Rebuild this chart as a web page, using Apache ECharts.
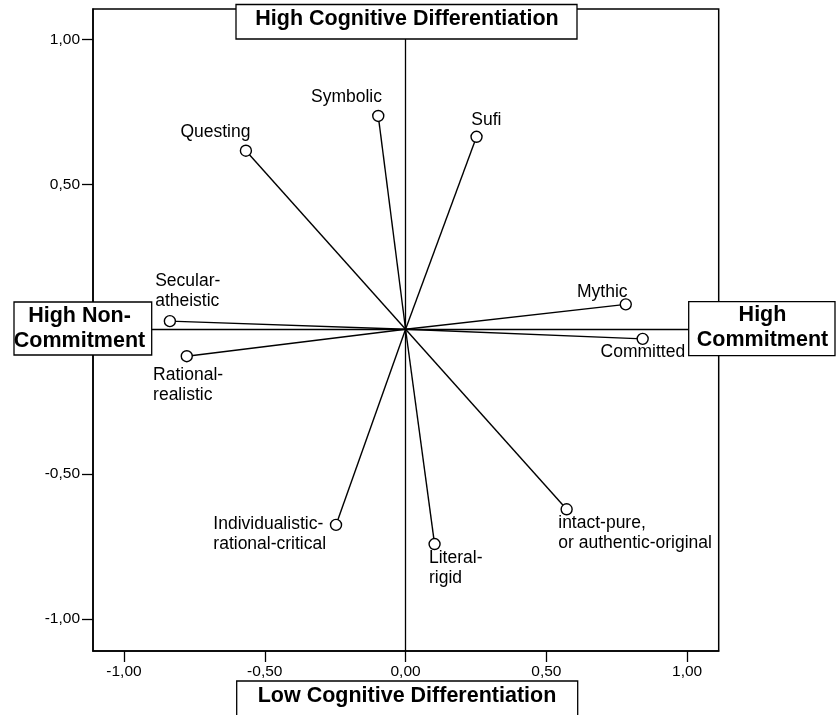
<!DOCTYPE html>
<html>
<head>
<meta charset="utf-8">
<script src="https://cdn.jsdelivr.net/npm/echarts@6/dist/echarts.min.js"></script>
<style>
html,body{margin:0;padding:0;background:#fff;}
#chart{width:836px;height:715px;}
</style>
</head>
<body>
<div id="chart"></div>
<script>
// ---- data ----
var names = ['Symbolic','Questing','Sufi','Secular-\natheistic','Rational-\nrealistic','Mythic','Committed','Individualistic-\nrational-critical','Literal-\nrigid','intact-pure,\nor authentic-original'];
var xValues = [-0.097,-0.567,0.252,-0.837,-0.777,0.782,0.842,-0.247,0.103,0.572];
var yValues = [0.736,0.616,0.664,0.028,-0.093,0.086,-0.033,-0.675,-0.741,-0.621];
var xTicks = [-1.0,-0.5,0.0,0.5,1.0];
var yTicks = [-1.0,-0.5,0.0,0.5,1.0];
var poleTop = 'High Cognitive Differentiation';
var poleBottom = 'Low Cognitive Differentiation';
var poleLeft = 'High Non-\nCommitment';
var poleRight = 'High\nCommitment';

// ---- label placement (style only) ----
var labelStyle = [
  {align:'center', offset:[-31.8,-18.5]},
  {align:'center', offset:[-30.5,-18.7]},
  {align:'center', offset:[9.8,-16.4]},
  {align:'left', offset:[-14.7,-29.5]},
  {align:'left', offset:[-33.7,28.5]},
  {align:'center', offset:[-23.5,-12.6]},
  {align:'center', offset:[0.2,13.6]},
  {align:'left', offset:[-122.7,9.2]},
  {align:'left', offset:[-5.6,24]},
  {align:'left', offset:[-8.4,24]}
];

var FONT = '"Liberation Sans", Arial, Helvetica, sans-serif';
function fmt(v){ return (v<0?'-':'') + Math.abs(v).toFixed(2).replace('.', ','); }

var pointData = names.map(function(n,i){
  return {
    name: n,
    value: [xValues[i], yValues[i]],
    label: {
      show: true, position: 'inside', formatter: n,
      align: labelStyle[i].align, verticalAlign: 'middle',
      offset: labelStyle[i].offset,
      fontSize: 17.5, lineHeight: 20, color: '#000', fontFamily: FONT
    }
  };
});
var vectorData = names.map(function(n,i){
  return { coords: [[0,0],[xValues[i], yValues[i]]] };
});

function boxText(txt, cx, cy){
  return {
    type:'text', z: 101, silent:true,
    style:{ text: txt, x: cx, y: cy, align:'center', verticalAlign:'middle',
      textAlign:'center', textVerticalAlign:'middle',
      fontSize: 21.5, fontWeight:'bold', fontFamily: FONT, lineHeight: 25, fill:'#000' }
  };
}
function boxRect(x,y,w,h){
  return { type:'rect', z:100, silent:true, shape:{x:x,y:y,width:w,height:h},
    style:{ fill:'#fff', stroke:'#000', lineWidth:1.3 } };
}

var chart = echarts.init(document.getElementById('chart'), null, {renderer:'canvas'});
chart.setOption({
  animation: false,
  backgroundColor: '#fff',
  grid: { left: 93, right: 117.3, top: 9, bottom: 64, show: true, borderColor:'#000', borderWidth:1.5, backgroundColor:'transparent' },
  xAxis: {
    type:'value', min:-1.11, max:1.112,
    axisLine:{ show:true, onZero:false, lineStyle:{color:'#000', width:1.5} },
    axisTick:{ show:true, length:11, customValues: xTicks, lineStyle:{color:'#000', width:1.3} },
    axisLabel:{ customValues: xTicks, formatter: fmt, fontSize:15.5, color:'#000', fontFamily:FONT, margin:13 },
    splitLine:{ show:false }
  },
  yAxis: {
    type:'value', min:-1.11, max:1.105,
    axisLine:{ show:true, onZero:false, lineStyle:{color:'#000', width:1.5} },
    axisTick:{ show:true, length:11, customValues: yTicks, lineStyle:{color:'#000', width:1.3} },
    axisLabel:{ customValues: yTicks, formatter: fmt, fontSize:15.5, color:'#000', fontFamily:FONT, margin:13 },
    splitLine:{ show:false }
  },
  series: [
    {
      type:'scatter', data: [], symbolSize:0, silent:true,
      markLine: {
        silent:true, symbol:['none','none'], label:{show:false},
        lineStyle:{ color:'#000', width:1.3, type:'solid' },
        data:[ {xAxis:0}, {yAxis:0} ]
      }
    },
    {
      type:'lines', coordinateSystem:'cartesian2d', data: vectorData, silent:true,
      lineStyle:{ color:'#000', width:1.4, opacity:1 }, z:3
    },
    {
      type:'scatter', data: pointData, symbol:'circle', symbolSize:11, z:4,
      itemStyle:{ color:'#fff', borderColor:'#000', borderWidth:1.4, opacity:1 }
    }
  ],
  graphic: [
    boxRect(236, 4.5, 341, 34.5), boxText(poleTop, 407, 18.8),
    boxRect(236.7, 681, 341, 50), boxText(poleBottom, 407, 696.3),
    boxRect(14, 302, 137.7, 53), boxText(poleLeft, 79.5, 328.7),
    boxRect(688.7, 301.7, 146.3, 54), boxText(poleRight, 762.5, 327.6)
  ]
});
</script>
</body>
</html>
